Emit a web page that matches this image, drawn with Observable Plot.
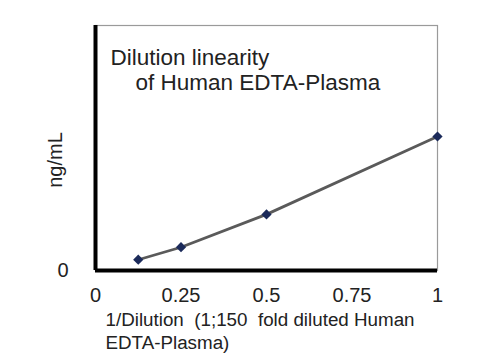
<!DOCTYPE html>
<html>
<head>
<meta charset="utf-8">
<script src="https://cdn.jsdelivr.net/npm/d3@7"></script>
<script src="https://cdn.jsdelivr.net/npm/@observablehq/plot@0.6"></script>
<style>
  html, body { margin: 0; padding: 0; background: #fff; }
  #chart { width: 500px; height: 360px; }
  svg { font-family: "Liberation Sans", Arial, sans-serif; }
</style>
</head>
<body>
<div id="chart"></div>
<script>
const dilution = [0.125, 0.25, 0.5, 1];
const concentration = [4.4, 9.5, 22.9, 54.7];
const xTicks = [0, 0.25, 0.5, 0.75, 1];
const xTickLabels = ["0", "0.25", "0.5", "0.75", "1"];
const yTicks = [0];
const titleLines = ["Dilution linearity", "of Human EDTA-Plasma"];
const yLabel = "ng/mL";
const xLabelLines = ["1/Dilution  (1;150  fold diluted Human", "EDTA-Plasma)"];

const data = dilution.map((d, i) => ({x: d, y: concentration[i]}));

const chart = Plot.plot({
  width: 500,
  height: 360,
  marginLeft: 95,
  marginRight: 63,
  marginTop: 25,
  marginBottom: 90,
  style: {fontFamily: "'Liberation Sans', Arial, sans-serif", color: "#222", background: "#fff"},
  x: {domain: [0, 1]},
  y: {domain: [0, 100]},
  marks: [
    Plot.frame({stroke: "#9a9a9a", strokeWidth: 1.2}),
    Plot.axisX({ticks: xTicks, tickFormat: (d, i) => xTickLabels[i], tickSize: 0, tickPadding: 17, fontSize: 20, label: null}),
    Plot.axisY({ticks: yTicks, tickSize: 0, tickPadding: 27, fontSize: 20, label: null}),
    Plot.ruleX([0], {stroke: "#000", strokeWidth: 4, y1: 0, y2: 100}),
    Plot.ruleY([0], {stroke: "#000", strokeWidth: 4}),
    Plot.line(data, {x: "x", y: "y", stroke: "#5a5a5a", strokeWidth: 2.8}),
    Plot.dot(data, {x: "x", y: "y", symbol: "diamond2", r: 4.6, fill: "#1b2a5a", stroke: "none"}),
    Plot.text([titleLines[0]], {frameAnchor: "top-left", dx: 15, dy: 32, textAnchor: "start", lineAnchor: "middle", fontSize: 22.5, fill: "#222"}),
    Plot.text([titleLines[1]], {frameAnchor: "top-left", dx: 40, dy: 57, textAnchor: "start", lineAnchor: "middle", fontSize: 22.5, fill: "#222"}),
    Plot.text([yLabel], {frameAnchor: "left", dx: -40, dy: 12, rotate: -90, textAnchor: "middle", lineAnchor: "middle", fontSize: 20, fill: "#222"}),
    Plot.text([xLabelLines[0]], {frameAnchor: "bottom-left", dx: 10, dy: 49, textAnchor: "start", lineAnchor: "middle", fontSize: 18.8, fill: "#222"}),
    Plot.text([xLabelLines[1]], {frameAnchor: "bottom-left", dx: 10, dy: 72, textAnchor: "start", lineAnchor: "middle", fontSize: 18.8, fill: "#222"})
  ]
});
document.getElementById("chart").appendChild(chart);
</script>
</body>
</html>
